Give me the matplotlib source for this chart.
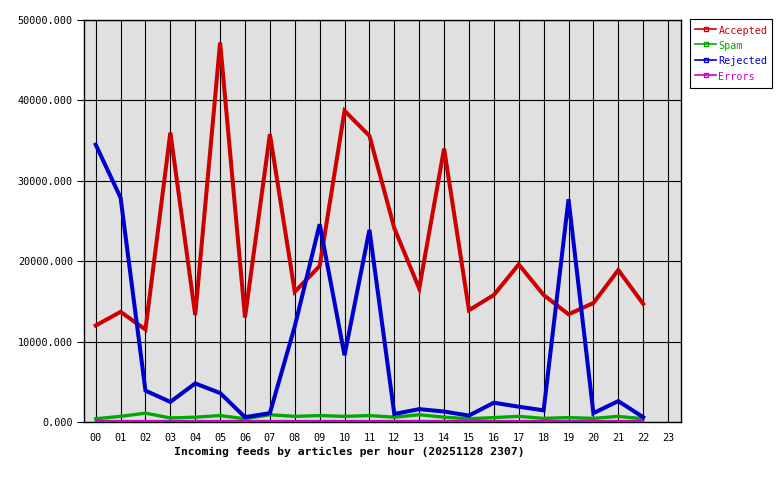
"""
Incoming feeds by articles per hour: accepted, spam, rejected and error counts
for each hour of the day, drawn in the style of an old gd-rendered report.
"""
import matplotlib
matplotlib.use("Agg")
import matplotlib.pyplot as plt
from matplotlib.lines import Line2D

hours = ["00", "01", "02", "03", "04", "05", "06", "07", "08", "09", "10", "11",
         "12", "13", "14", "15", "16", "17", "18", "19", "20", "21", "22", "23"]

accepted = [12000, 13700, 11500, 36000, 13300, 47200, 13000, 35800, 16200, 19400,
            38700, 35600, 24100, 16600, 34000, 13900, 15800, 19600, 15800, 13400,
            14800, 18900, 14700]
spam = [400, 700, 1100, 500, 600, 800, 400, 900, 700, 800,
        700, 800, 600, 900, 600, 400, 550, 700, 450, 550,
        450, 700, 400]
rejected = [34500, 27900, 3900, 2500, 4800, 3600, 600, 1100, 11900, 24600,
            8300, 23900, 1000, 1600, 1300, 800, 2400, 1900, 1450, 27700,
            1100, 2600, 600]
errors = [150] * 23

series = [("Accepted", accepted, "#cc0000", 2.9),
          ("Spam", spam, "#00aa00", 2.4),
          ("Rejected", rejected, "#0000cc", 2.9),
          ("Errors", errors, "#cc00cc", 1.6)]


def plot_feeds():
    """Draw the hourly feed chart and save it as out.png."""
    plt.rcParams["font.family"] = ["DejaVu Sans Mono"]
    fig = plt.figure(figsize=(7.8, 4.8), dpi=100)
    ax = fig.add_axes([84 / 780, 1 - 422 / 480, 597 / 780, 402 / 480])
    ax.set_facecolor("#e0e0e0")

    x = list(range(len(accepted)))
    for name, vals, color, lw in series:
        ax.plot(x, vals, color=color, lw=lw, solid_joinstyle="miter", zorder=3)

    ax.set_xlim(-0.47, 23.52)
    ax.set_ylim(0, 50000)
    ax.set_xticks(range(len(hours)))
    ax.set_xticklabels(hours)
    ax.set_yticks(range(0, 50001, 10000))
    ax.set_yticklabels([f"{v:.3f}" for v in range(0, 50001, 10000)])
    ax.tick_params(axis="x", length=0, pad=8, labelsize=7.3)
    ax.tick_params(axis="y", length=5, width=0.8, pad=3, labelsize=7.3)
    ax.grid(True, color="black", lw=0.8, zorder=1)
    ax.set_axisbelow(True)
    for sp in ax.spines.values():
        sp.set_color("black")
        sp.set_linewidth(1.0)

    fig.text(349 / 780, 1 - 452 / 480,
             "Incoming feeds by articles per hour (20251128 2307)",
             ha="center", va="center", fontsize=8.2, fontweight="bold")

    handles = [Line2D([0], [0], color=c, lw=1.2, marker="s", markersize=2.5,
                      markerfacecolor="none", markeredgecolor=c)
               for _, _, c, _ in series]
    leg = fig.legend(handles, [s[0] for s in series],
                     loc="upper left", bbox_to_anchor=(690 / 780, 1 - 19 / 480),
                     fancybox=False, framealpha=1, edgecolor="black",
                     fontsize=7.3, handlelength=2.1, handleheight=1.5,
                     handletextpad=0.2, labelspacing=0.3, borderpad=0.5,
                     borderaxespad=0)
    leg.get_frame().set_linewidth(0.8)
    for txt, (_, _, c, _) in zip(leg.get_texts(), series):
        txt.set_color(c)

    fig.savefig("out.png", dpi=100)


if __name__ == "__main__":
    plot_feeds()
